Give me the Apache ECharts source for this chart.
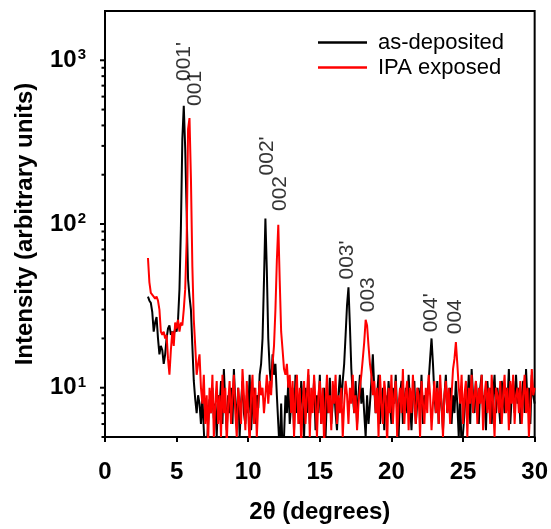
<!DOCTYPE html>
<html>
<head>
<meta charset="utf-8">
<script src="https://cdn.jsdelivr.net/npm/echarts@6/dist/echarts.min.js"></script>
<style>
  html, body { margin: 0; padding: 0; background: #fff; }
  #chart { width: 551px; height: 529px; }
</style>
</head>
<body>
<div id="chart"></div>
<script>
// XRD scans, 2θ from 3.0° to 30.0° in 0.1° steps
const twoThetaStart = 3.0;
const twoThetaStep = 0.1;

// as-deposited film (counts, arbitrary units)
const asDeposited = [
  36, 34, 33, 29, 22, 25, 27, 20, 16, 18,        // 3.x
  17, 14, 16, 20, 23, 24, 21, 22, 21, 23,        // 4.x
  22, 26, 40, 95, 330, 528, 290, 120, 46, 36,    // 5.x
  30, 18, 11, 8.5, 7, 9, 8, 6, 9, 5.5,           // 6.x
  3.5, 4.2, 6, 8.5, 7, 10, 6.5, 8, 5, 9,         // 7.x
  7.5, 11, 6, 13, 8, 5.5, 9, 7, 10, 6,           // 8.x
  13, 8, 6.5, 10, 5, 8, 11, 7, 6, 9,             // 9.x
  7, 12, 5.5, 8, 10, 6, 9, 7.5, 12, 14,          // 10.x
  20, 45, 108, 52, 20, 13, 10, 16, 12, 14,       // 11.x
  9, 6, 4, 8, 4, 5, 9, 7, 11, 6,                 // 12.x
  8, 10, 5.5, 12, 7, 9, 6, 11, 8, 5,             // 13.x
  10, 7, 12, 6, 9, 8, 11, 5.5, 9, 7,             // 14.x
  12, 6, 8, 10, 5, 9, 7, 11.5, 6, 8,             // 15.x
  10, 7, 5.5, 9, 12, 8, 11, 14, 21, 32,          // 16.x
  41, 24, 13, 9, 7, 11, 6, 9, 12, 8,             // 17.x
  10, 7, 5, 9, 6, 8, 11, 16, 10, 7,              // 18.x
  9, 12, 6, 8, 10, 5.5, 9, 7, 11, 8,             // 19.x
  6, 10, 8, 12, 7, 5, 9, 11, 6, 8,               // 20.x
  10, 7, 12, 8, 5.5, 9, 11, 6, 8, 10,            // 21.x
  7, 12, 6, 9, 8, 9, 11, 15, 20, 14,             // 22.x
  9, 7, 11, 6, 10, 8, 5.5, 9, 12, 7,             // 23.x
  8, 10, 6, 9, 7, 11, 8, 5, 9, 4,                // 24.x
  4, 7, 10, 8, 12, 6, 13, 9, 7, 11,              // 25.x
  8, 6, 10, 12, 7, 9, 5.5, 11, 8, 10,            // 26.x
  6, 9, 12, 7, 10, 8, 6, 11, 9, 7,               // 27.x
  10, 8, 13, 6, 9, 11, 7, 12, 8, 10,             // 28.x
  6, 9, 11, 7, 13, 8, 10, 6, 12, 9,              // 29.x
  8                                              // 30.0
];

// film after IPA exposure
const ipaExposed = [
  62, 44, 38, 37, 36, 35, 36, 34, 30, 22,        // 3.x
  21, 22, 20, 21, 15, 12, 17, 22, 18, 25,        // 4.x
  23, 26, 22, 25, 24, 30, 40, 78, 380, 444,      // 5.x
  190, 55, 26, 18, 12, 14, 16, 10, 8, 12,        // 6.x
  6, 9, 4.5, 10, 7, 12, 5, 8, 11, 6,             // 7.x
  9, 5, 12, 7, 10, 4.5, 8, 11, 6, 9,             // 8.x
  12, 7, 5, 10, 8, 6, 13, 9, 5.5, 11,            // 9.x
  7, 4.5, 9, 12, 6, 10, 5, 8, 11, 9,             // 10.x
  10, 7, 9, 12, 8, 11, 9, 14, 18, 30,            // 11.x
  60, 99, 45, 22, 17, 13, 12, 14, 10, 12,        // 12.x
  7, 11, 5, 9, 12, 6, 10, 4.5, 8, 11,            // 13.x
  6, 9, 13, 5, 10, 7, 12, 8, 5, 9,               // 14.x
  11, 6, 10, 4.5, 8, 12, 7, 9, 5.5, 11,          // 15.x
  8, 12, 6, 9, 7, 10, 5, 8, 11, 9,               // 16.x
  6, 10, 8, 12, 7, 9, 5.5, 8, 10, 12,            // 17.x
  15, 19, 26, 24, 18, 14, 12, 9, 11, 7,          // 18.x
  10, 5, 12, 8, 6, 11, 9, 4.5, 10, 7,            // 19.x
  12, 6, 9, 11, 5, 8, 10, 7, 13, 6,              // 20.x
  9, 11, 5.5, 10, 7, 12, 8, 6, 10, 9,            // 21.x
  5, 11, 8, 6, 10, 7, 12, 9, 5.5, 8,             // 22.x
  11, 7, 10, 6, 12, 8, 5, 9, 11, 7,              // 23.x
  10, 6, 9, 13, 15, 19, 14, 10, 8, 12,           // 24.x
  6, 9, 11, 5, 10, 8, 12, 7, 9, 11,              // 25.x
  6, 10, 8, 12, 5.5, 9, 11, 7, 10, 6,            // 26.x
  12, 8, 5, 10, 9, 7, 11, 6, 9, 12,              // 27.x
  7, 10, 5.5, 11, 8, 12, 6, 9, 10, 7,            // 28.x
  11, 6, 9, 12, 7, 10, 5, 8, 13, 9,              // 29.x
  10                                             // 30.0
];

// reflection labels: text, 2θ of label, intensity at the foot of the label
const reflectionNames = ["001'", "001", "002'", "002", "003'", "003", "004'", "004"];
const reflectionTheta = [5.51, 6.28, 11.30, 12.21, 16.88, 18.35, 22.81, 24.42];
const reflectionFoot  = [747, 526, 198, 120, 45.8, 28.9, 21.8, 21.2];

const seriesNames = ['as-deposited', 'IPA exposed'];
// tick positions on the log intensity axis
const yDecades = [10, 100, 1000];
const yMinor = [5, 6, 7, 8, 9, 20, 30, 40, 50, 60, 70, 80, 90, 200, 300, 400, 500, 600, 700, 800, 900];

function pairs(values) {
  return values.map((v, i) => [+(twoThetaStart + i * twoThetaStep).toFixed(2), v]);
}

const FONT = 'Arial, "Liberation Sans", sans-serif';
const chart = echarts.init(document.getElementById('chart'), null, { renderer: 'canvas' });

const supDigit = { 1: '1', 2: '2', 3: '3' };

chart.setOption({
  animation: false,
  backgroundColor: '#fff',
  grid: {
    left: 105, right: 16, top: 11, bottom: 90,
    show: true, borderColor: '#000', borderWidth: 2, backgroundColor: 'transparent'
  },
  legend: {
    data: seriesNames,
    orient: 'vertical',
    left: 313, top: 25,
    itemWidth: 49, itemHeight: 2.5, itemGap: 0,
    icon: 'rect',
    textStyle: { fontFamily: FONT, fontSize: 22, color: '#000', lineHeight: 25, padding: [0, 0, 0, 6] }
  },
  xAxis: {
    type: 'value', min: 0, max: 30, interval: 5,
    name: '2\u03B8 (degrees)', nameLocation: 'middle', nameGap: 63,
    nameTextStyle: { fontFamily: FONT, fontSize: 24, fontWeight: 'bold', color: '#000' },
    axisLine: { show: true, lineStyle: { color: '#000', width: 2 } },
    axisTick: { show: true, inside: false, length: 5, lineStyle: { color: '#000', width: 2 } },
    axisLabel: { fontFamily: FONT, fontSize: 24, fontWeight: 'bold', color: '#000', margin: 23 },
    splitLine: { show: false }
  },
  yAxis: {
    type: 'log', logBase: 10, min: 5, max: 2000,
    name: 'Intensity (arbitrary units)', nameLocation: 'middle', nameGap: 68,
    nameTextStyle: { fontFamily: FONT, fontSize: 24, fontWeight: 'bold', color: '#000' },
    axisLine: { show: true, lineStyle: { color: '#000', width: 2 } },
    axisTick: { show: false },
    axisLabel: {
      margin: 19, showMinLabel: false, showMaxLabel: false,
      formatter: v => {
        const e = Math.round(Math.log10(v));
        return supDigit[e] ? '{b|10}{s|' + supDigit[e] + '}' : '';
      },
      rich: {
        b: { fontFamily: FONT, fontSize: 24, fontWeight: 'bold', color: '#000' },
        s: { fontFamily: FONT, fontSize: 15, fontWeight: 'bold', color: '#000', verticalAlign: 'top', padding: [0, 0, 10, 1] }
      }
    },
    splitLine: { show: false }
  },
  series: [
    {
      name: seriesNames[0], type: 'line', data: pairs(asDeposited),
      showSymbol: false, symbol: 'none', clip: true, z: 3,
      lineStyle: { color: '#000', width: 2 }, itemStyle: { color: '#000' }
    },
    {
      name: seriesNames[1], type: 'line', data: pairs(ipaExposed),
      showSymbol: false, symbol: 'none', clip: true, z: 4,
      lineStyle: { color: '#ff0000', width: 2 }, itemStyle: { color: '#ff0000' }
    },
    {
      name: 'reflections', type: 'scatter', symbolSize: 0, silent: true, z: 5,
      data: reflectionNames.map((n, i) => ({ name: n, value: [reflectionTheta[i], reflectionFoot[i]] })),
      label: {
        show: true, position: 'inside', rotate: 90, align: 'left', verticalAlign: 'middle',
        formatter: p => p.name,
        fontFamily: FONT, fontSize: 21, color: '#000'
      }
    }
  ]
});

// outward tick marks on the log intensity axis: long at decades, short in between,
// placed through the axis scale
const tickMarks = [];
yDecades.forEach(v => tickMarks.push([v, 5]));
yMinor.forEach(v => tickMarks.push([v, 3.5]));
chart.setOption({
  graphic: tickMarks.map(([v, len]) => {
    const p = chart.convertToPixel({ gridIndex: 0 }, [0, v]);
    return {
      type: 'line', silent: true, z: 10,
      shape: { x1: p[0] - len, y1: p[1], x2: p[0], y2: p[1] },
      style: { stroke: '#000', lineWidth: 2 }
    };
  })
});
</script>
</body>
</html>
